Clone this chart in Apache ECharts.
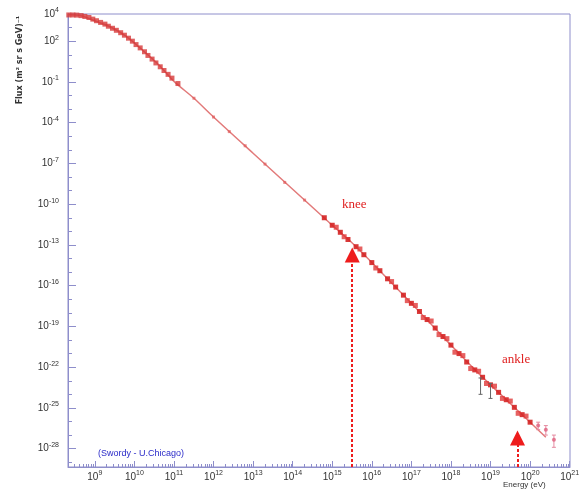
<!DOCTYPE html>
<html><head><meta charset="utf-8">
<script src="https://cdn.jsdelivr.net/npm/echarts@6/dist/echarts.min.js"></script>
<style>html,body{margin:0;padding:0;background:#fff}#c{width:583px;height:491px}</style>
</head><body><div id="c"></div>
<script>
// ---- axis ranges & tick labels ----
const xMin = 2.1e8, xMax = 1.02e21;
const yMin = 4.47e-30, yMax = 1e4;
const xLabelValues = [1e9,1e10,1e11,1e12,1e13,1e14,1e15,1e16,1e17,1e18,1e19,1e20,1e21];
const yLabelValues = [1e4,1e2,1e-1,1e-4,1e-7,1e-10,1e-13,1e-16,1e-19,1e-22,1e-25,1e-28];

// ---- thin spectrum curve (Energy eV, Flux) ----
const lineE = [2.1e8,4.0e8,1.0e9,2.5e9,6.3e9,1.6e10,4.0e10,1.0e11,3.2e11,1e12,1e13,1e14,1e15,3.2e15,1e16,1e17,1e18,5e18,1e20,2.5e20];
const lineF = [8.9e3,8.1e3,3.2e3,1.1e3,2.2e2,2.2e1,2.0,0.11,6.3e-3,2.6e-4,5.6e-7,1.26e-9,2.8e-12,1.4e-13,5e-15,5e-18,4.2e-21,3.5e-23,8.9e-27,7e-28];

// ---- direct measurements (low energy, dense) ----
const directE = [2.2e8,2.8e8,3.5e8,4.5e8,5.6e8,7.1e8,8.9e8,1.1e9,1.4e9,1.8e9,2.2e9,2.8e9,3.5e9,4.5e9,5.6e9,7.1e9,8.9e9,1.1e10,1.4e10,1.8e10,2.2e10,2.8e10,3.5e10,4.5e10,5.6e10,7.1e10,8.9e10,1.26e11];
const directF = [8.5e3,8.5e3,8.3e3,7.6e3,6.6e3,5.5e3,4.2e3,3.2e3,2.4e3,1.8e3,1.26e3,890,630,420,275,166,100,56,32,16.6,8.9,4.8,2.5,1.3,0.69,0.36,0.19,0.076];

// ---- sparse mid-energy points ----
const sparseE = [3.2e11,1.0e12,2.5e12,6.3e12,2.0e13,6.3e13,2.0e14];
const sparseF = [6.3e-3,2.6e-4,2.2e-5,2.0e-6,8.9e-8,4.0e-9,2.0e-10];

// ---- air shower experiments A ----
const airAE = [6.3e14,1e15,1.6e15,2.5e15,4e15,6.3e15,1e16,1.6e16,2.5e16,4e16,6.3e16,1e17,1.6e17,2.5e17,4e17,6.3e17,1e18,1.6e18,2.5e18,4e18,6.3e18,1e19,1.6e19,2.5e19,4e19,6.3e19,1e20];
const airAF = [1e-11,2.8e-12,8.5e-13,2.5e-13,7.4e-14,1.9e-14,5e-15,1.26e-15,3.2e-16,7.9e-17,2e-17,5e-18,1.26e-18,3.2e-19,7.6e-20,1.8e-20,4.2e-21,1e-21,2.4e-22,6.3e-23,1.8e-23,5e-24,1.4e-24,4e-25,1.1e-25,3.2e-26,8.9e-27];

// ---- air shower experiments B ----
const airBE = [1.26e15,2.0e15,5.0e15,1.26e16,3.16e16,7.9e16,1.26e17,2.0e17,3.16e17,5.0e17,7.9e17,1.26e18,2.0e18,3.16e18,5.0e18,7.9e18,1.26e19,2.0e19,3.16e19,5.0e19,7.9e19];
const airBF = [2.0e-12,4.0e-13,5.0e-14,2.0e-15,2.0e-16,7.9e-18,3.5e-18,4.5e-19,2.5e-19,2.5e-20,1.26e-20,1.26e-21,7.1e-22,7.9e-23,5.0e-23,6.3e-24,4.0e-24,5.0e-25,3.2e-25,4.0e-26,2.5e-26];

// ---- highest energy points with error bars ----
const uheE = [1.6e20,2.5e20,4.0e20];
const uheF = [5.0e-27,2.5e-27,4.5e-28];
const uheLo = [2.5e-27,1.0e-27,1.26e-28];
const uheHi = [8.9e-27,5.0e-27,1.0e-27];

// ---- grey error bars near the ankle ----
const barE = [5.6e18,1.0e19];
const barLo = [1.0e-24,5.0e-25];
const barHi = [1.6e-23,6.3e-24];

// ---- arrows (energy, flux at arrow head) ----
const kneeArrow = [3.2e15, 1.8e-14];
const ankleArrow = [4.8e19, 6.0e-28];

const zip = (xs, ys) => xs.map((x, i) => [x, ys[i]]);
const zip3 = (xs, a, b) => xs.map((x, i) => [x, a[i], b[i]]);

// decade ticks / minor ticks (axis styling only)
const yDecadeTicks = [];
for (let k = 4; k >= -29; k--) yDecadeTicks.push(Number('1e' + k));
const xMinorTicks = [];
for (let n = 8; n <= 20; n++) for (let m = 2; m <= 9; m++) {
  const v = Number(m + 'e' + n);
  if (v > xMin && v < xMax) xMinorTicks.push(v);
}

const axisColor = '#8e8ecb';
const fmt = v => '{b|10}{s|' + Math.round(Math.log10(v)) + '}';
const rich = {
  b: {fontSize: 10, fontFamily: 'Liberation Sans', color: '#333'},
  s: {fontSize: 7, fontFamily: 'Liberation Sans', color: '#333', padding: [0, 0, 7, 0]}
};

function renderErr(params, api) {
  const x = api.value(0), lo = api.value(1), hi = api.value(2);
  const p1 = api.coord([x, lo]), p2 = api.coord([x, hi]);
  const c = api.visual('color');
  return {type: 'group', children: [
    {type: 'line', shape: {x1: p1[0], y1: p1[1], x2: p2[0], y2: p2[1]}, style: {stroke: c, lineWidth: 1}},
    {type: 'line', shape: {x1: p1[0]-2, y1: p1[1], x2: p1[0]+2, y2: p1[1]}, style: {stroke: c, lineWidth: 1}},
    {type: 'line', shape: {x1: p2[0]-2, y1: p2[1], x2: p2[0]+2, y2: p2[1]}, style: {stroke: c, lineWidth: 1}}
  ]};
}

const chart = echarts.init(document.getElementById('c'), null, {width: 583, height: 491});
chart.setOption({
  animation: false,
  backgroundColor: '#fff',
  grid: {left: 68, top: 14, right: 13, bottom: 24, show: true, borderColor: axisColor, borderWidth: 1, outerBoundsMode: 'none'},
  xAxis: [
    {type: 'log', logBase: 10, min: xMin, max: xMax, position: 'bottom',
     axisLine: {show: true, lineStyle: {color: axisColor}},
     axisTick: {show: true, inside: true, length: 6, lineStyle: {color: axisColor}, customValues: xLabelValues},
     axisLabel: {show: true, margin: 3, formatter: fmt, rich: rich, customValues: xLabelValues, showMaxLabel: true},
     splitLine: {show: false}, minorTick: {show: false}},
    {type: 'log', logBase: 10, min: xMin, max: xMax, position: 'bottom',
     axisLine: {show: false},
     axisTick: {show: true, inside: true, length: 3, lineStyle: {color: axisColor}, customValues: xMinorTicks},
     axisLabel: {show: false}, splitLine: {show: false}}
  ],
  yAxis: [
    {type: 'log', logBase: 10, min: yMin, max: yMax, position: 'left',
     axisLine: {show: true, lineStyle: {color: axisColor}},
     axisTick: {show: true, inside: true, length: 8, lineStyle: {color: axisColor}, customValues: yLabelValues},
     axisLabel: {show: true, margin: 9, formatter: fmt, rich: rich, customValues: yLabelValues},
     splitLine: {show: false}},
    {type: 'log', logBase: 10, min: yMin, max: yMax, position: 'left',
     axisLine: {show: false},
     axisTick: {show: true, inside: true, length: 4, lineStyle: {color: axisColor}, customValues: yDecadeTicks},
     axisLabel: {show: false}, splitLine: {show: false}}
  ],
  series: [
    {name: 'Spectrum', type: 'line', data: zip(lineE, lineF), smooth: 0.3, showSymbol: false,
     lineStyle: {color: '#e27a7a', width: 1.5}, z: 1, silent: true},
    {name: 'Direct', type: 'scatter', data: zip(directE, directF), symbol: 'rect', symbolSize: 5,
     itemStyle: {color: '#d63a3a', opacity: 0.8}, z: 3},
    {name: 'Sparse', type: 'scatter', data: zip(sparseE, sparseF), symbol: 'rect', symbolSize: 3,
     itemStyle: {color: '#e05a5a', opacity: 0.7}, z: 3},
    {name: 'Air showers A', type: 'scatter', data: zip(airAE, airAF), symbol: 'rect', symbolSize: 5,
     itemStyle: {color: '#d42424', opacity: 0.9}, z: 3,
     markLine: {silent: true, symbol: ['none', 'triangle'], symbolSize: 15,
       label: {show: false},
       lineStyle: {color: '#ee1c1c', width: 2, type: [3, 2], opacity: 1},
       data: [
         [{coord: [kneeArrow[0], yMin]}, {coord: kneeArrow}],
         [{coord: [ankleArrow[0], yMin]}, {coord: ankleArrow}]
       ]}},
    {name: 'Air showers B', type: 'scatter', data: zip(airBE, airBF), symbol: 'rect', symbolSize: 5,
     itemStyle: {color: '#e03a3a', opacity: 0.8}, z: 3},
    {name: 'UHE', type: 'scatter', data: zip(uheE, uheF), symbol: 'circle', symbolSize: 4,
     itemStyle: {color: '#e0607e'}, z: 4},
    {name: 'UHE errors', type: 'custom', data: zip3(uheE, uheLo, uheHi), renderItem: renderErr,
     encode: {x: 0, y: [1, 2]}, itemStyle: {color: '#e58aa0'}, z: 4},
    {name: 'Ankle errors', type: 'custom', data: zip3(barE, barLo, barHi), renderItem: renderErr,
     encode: {x: 0, y: [1, 2]}, itemStyle: {color: '#666'}, z: 4}
  ],
  graphic: [
    {type: 'text', left: 342, top: 198, style: {text: 'knee', fill: '#e02020', font: '13px "Liberation Serif"'}},
    {type: 'text', left: 502, top: 353, style: {text: 'ankle', fill: '#e02020', font: '13px "Liberation Serif"'}},
    {type: 'text', left: 98, top: 449, style: {text: '(Swordy - U.Chicago)', fill: '#2b2bc8', font: '9px "Liberation Sans"'}},
    {type: 'text', left: 503, top: 481, style: {text: 'Energy (eV)', fill: '#333', font: '8px "Liberation Sans"'}},
    {type: 'text', x: 20, y: 60, rotation: Math.PI / 2,
     style: {text: 'Flux (m² sr s GeV)⁻¹', fill: '#333', font: 'bold 8px "DejaVu Sans"', align: 'center', verticalAlign: 'middle'}}
  ]
});
</script>
</body></html>
